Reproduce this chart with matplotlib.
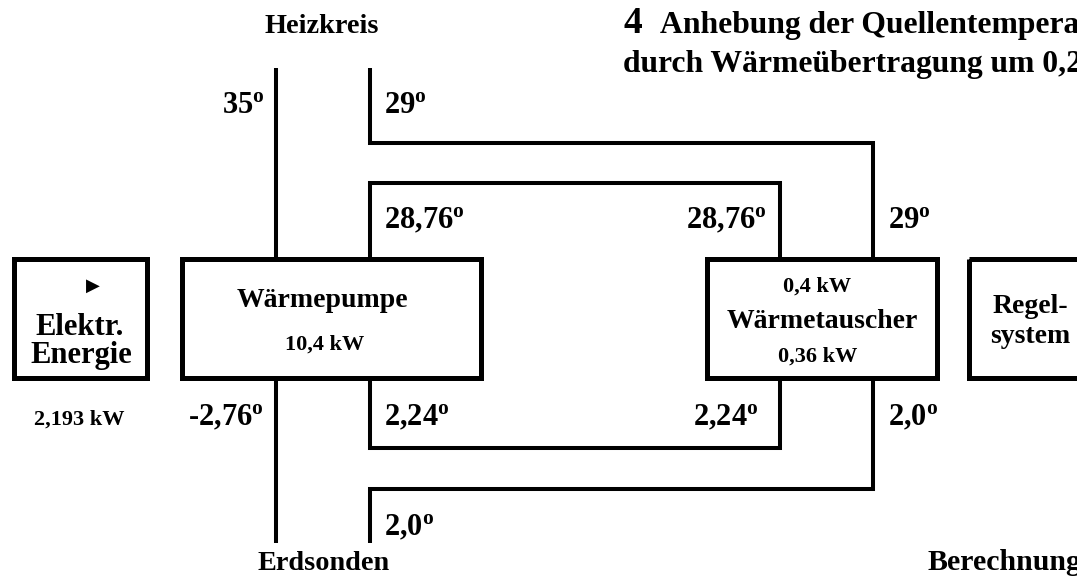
import matplotlib
matplotlib.use("Agg")
import matplotlib.pyplot as plt
from matplotlib.patches import Rectangle

plt.rcParams['font.family'] = ['Liberation Serif', 'DejaVu Serif']
plt.rcParams['font.weight'] = 'bold'
plt.rcParams['mathtext.fontset'] = 'custom'
plt.rcParams['mathtext.rm'] = 'Liberation Serif:bold'
plt.rcParams['mathtext.bf'] = 'Liberation Serif:bold'
plt.rcParams['mathtext.it'] = 'Liberation Serif:bold'

# ---------------- data (texts / values) ----------------
title_number = "4"
title_lines = ["Anhebung der Quellentemperatur", "durch Wärmeübertragung um 0,24 K"]
circuit_names = ["Heizkreis", "Erdsonden"]
box_names = ["Elektr.\nEnergie", "Wärmepumpe", "Wärmetauscher", "Regel-\nsystem"]
power_values = ["2,193 kW", "10,4 kW", "0,4 kW", "0,36 kW"]
temps_upper = ["35", "29", "28,76", "28,76", "29"]
temps_lower = ["-2,76", "2,24", "2,24", "2,0", "2,0"]
footer = "Berechnung"
arrow_symbol = "▶"

# ---------------- layout (pixel coordinates) ----------------
W, H = 1077, 582
fig = plt.figure(figsize=(W / 100, H / 100), dpi=100)
ax = fig.add_axes([0, 0, 1, 1])
ax.set_xlim(0, W)
ax.set_ylim(H, 0)
ax.axis('off')

LINE_W = 2.9
BOX_W = 3.6
line_kw = dict(color='black', lw=LINE_W, solid_joinstyle='miter', solid_capstyle='butt')

# boxes: (x0, y0, x1, y1)
boxes = [(14, 259, 147, 377.5), (182, 259, 481, 377.5), (707, 259, 937, 377.5), (969, 259, 1110, 377.5)]
for (x0, y0, x1, y1) in boxes:
    ax.add_patch(Rectangle((x0, y0), x1 - x0, y1 - y0, fill=False, lw=BOX_W,
                           edgecolor='black', joinstyle='miter'))

# pipes
pipes = [
    ([276, 276], [68, 259]),
    ([370, 370, 873, 873], [68, 143, 143, 259]),
    ([370, 370, 780, 780], [259, 183, 183, 259]),
    ([276, 276], [377.5, 543]),
    ([370, 370, 780, 780], [377.5, 448, 448, 377.5]),
    ([370, 370, 873, 873], [543, 489, 489, 377.5]),
]
for xs, ys in pipes:
    ax.plot(xs, ys, **line_kw)

def deg(s):
    return s + r"$^{\mathdefault{o}}$"

TEMP_FS = 22
# upper temperatures: (x, y_baseline, ha)
upper_pos = [(265, 113, 'right'), (384, 113, 'left'), (384, 228, 'left'),
             (767, 228, 'right'), (888, 228, 'left')]
for t, (x, y, ha) in zip(temps_upper, upper_pos):
    ax.text(x, y, deg(t), fontsize=TEMP_FS, ha=ha, va='baseline', fontweight='bold')

lower_pos = [(264, 425, 'right'), (384, 425, 'left'), (759, 425, 'right'),
             (888, 425, 'left'), (384, 535, 'left')]
for t, (x, y, ha) in zip(temps_lower, lower_pos):
    ax.text(x, y, deg(t), fontsize=TEMP_FS, ha=ha, va='baseline', fontweight='bold')

# circuit names
ax.text(322, 33, circuit_names[0], fontsize=20.3, ha='center', va='baseline')
ax.text(324, 570, circuit_names[1], fontsize=20.3, ha='center', va='baseline')

# title
ax.text(623, 33, title_number, fontsize=27, ha='left', va='baseline')
ax.text(660, 33, title_lines[0], fontsize=22.8, ha='left', va='baseline')
ax.text(623, 72, title_lines[1], fontsize=22.8, ha='left', va='baseline')

# Elektr. Energie box
ax.text(93, 291, arrow_symbol, fontsize=13, ha='center', va='baseline',
        family=['DejaVu Sans'])
el1, el2 = box_names[0].split("\n")
ax.text(80, 335, el1, fontsize=22, ha='center', va='baseline')
ax.text(81, 363, el2, fontsize=22, ha='center', va='baseline')
ax.text(79, 425, power_values[0], fontsize=16, ha='center', va='baseline')

# Wärmepumpe
ax.text(322, 307, box_names[1], fontsize=20, ha='center', va='baseline')
ax.text(325, 350, power_values[1], fontsize=16, ha='center', va='baseline')

# Wärmetauscher
ax.text(817, 292, power_values[2], fontsize=16, ha='center', va='baseline')
ax.text(822, 328, box_names[2], fontsize=20, ha='center', va='baseline')
ax.text(818, 362, power_values[3], fontsize=16, ha='center', va='baseline')

# Regelsystem
rg1, rg2 = box_names[3].split("\n")
ax.text(1030, 313, rg1, fontsize=20, ha='center', va='baseline')
ax.text(1030, 343, rg2, fontsize=20, ha='center', va='baseline')

# footer
ax.text(927, 570, footer, fontsize=21.5, ha='left', va='baseline')

fig.savefig("out.png", dpi=100, facecolor='white')
